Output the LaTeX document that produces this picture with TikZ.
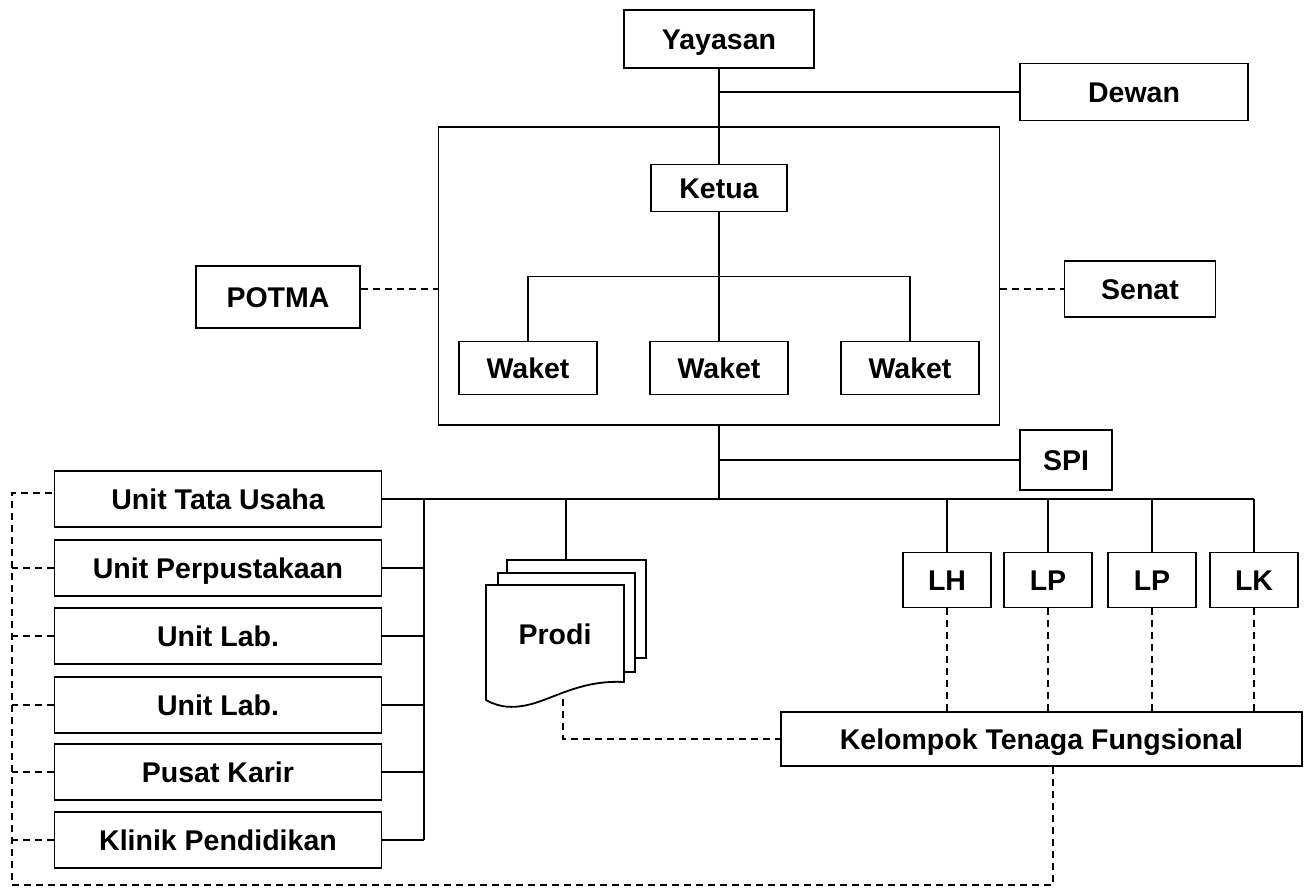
\documentclass[tikz,border=0pt]{standalone}
\usepackage{fontspec}
\setmainfont{Liberation Sans}
\usetikzlibrary{calc}
\tikzset{box/.style={draw, fill=white, inner sep=0pt, text height=20.5pt, text depth=0pt, font=\fontsize{28.5}{30}\selectfont\bfseries}}
\tikzset{dline/.style={line width=1.5pt, dash pattern=on 7pt off 5pt}}

\begin{document}
\begin{tikzpicture}[x=1pt,y=-1pt,line width=1.8pt]
		\useasboundingbox[fill=white] (0,0) rectangle (1304,892);
		% atas
		\node[draw, inner sep=0pt, minimum width=561pt, minimum height=298pt] (kampus) at (719,276) {};
		\node[box, minimum width=190pt, minimum height=58pt] (yayasan) at (719,39) {Yayasan};
		\node[box, minimum width=228pt, minimum height=57pt] (dewan) at (1134,92) {Dewan};
		\node[box, minimum width=136pt, minimum height=47pt] (ketua) at (719,188) {Ketua};
		\foreach \nm/\xx in {waket1/528, waket2/719, waket3/910}
			\node[box, minimum width=138pt, minimum height=53pt] (\nm) at (\xx,368) {Waket};
		\node[box, minimum width=164pt, minimum height=62pt] (potma) at (278,297) {POTMA};
		\node[box, minimum width=151pt, minimum height=56pt] (senat) at (1140,289) {Senat};
		\node[box, minimum width=92pt, minimum height=60pt] (spi) at (1066,460) {SPI};
		\draw (yayasan.south) -- (ketua.north);
		\draw (yayasan.south |- dewan.west) -- (dewan.west);
		\draw (ketua.south) -- (waket2.north);
		\coordinate (wbar) at ($(ketua.south)!0.5!(waket2.north)$);
		\draw (waket1.north) |- (wbar) -| (waket3.north);
		\draw[dline] (potma.east |- senat.west) -- (kampus.west |- senat.west);
		\draw[dline] (kampus.east |- senat.west) -- (senat.west);
		% bawah
		\coordinate (bar) at (719,499);
		\coordinate (bus) at (424,499);
		\coordinate (kiri) at (12,885);
		\draw (kampus.south) -- (bar);
		\draw (kampus.south |- spi.west) -- (spi.west);
		\node[box, minimum width=521pt, minimum height=54pt] (kelompok) at (1041.5,739) {Kelompok Tenaga Fungsional};
		\foreach \nm/\yy/\txt in {tu/499/Unit Tata Usaha, perpus/568/Unit Perpustakaan, lab1/636/Unit Lab., lab2/705/Unit Lab., karir/772/Pusat Karir, klinik/840/Klinik Pendidikan}{
			\node[box, minimum width=327pt, minimum height=56pt] (\nm) at (218,\yy) {\txt};
			\draw (\nm.east) -- (\nm.east -| bus);
		}
		\foreach \nm in {perpus,lab1,lab2,karir,klinik}
			\draw[dline] (\nm.west) -- (\nm.west -| kiri);
		\coordinate (tustub) at ([yshift=6pt]tu.west);
		\draw (bus) -- (bus |- klinik.east);
		\foreach \nm/\xx/\txt in {lh/947/LH, lp1/1048/LP, lp2/1152/LP, lk/1254/LK}{
			\node[box, minimum width=88pt, minimum height=55pt] (\nm) at (\xx,580) {\txt};
			\draw (\nm.north) -- (\nm.north |- bar);
			\draw[dline] (\nm.south) -- (\nm.south |- kelompok.north);
		}
		\draw (tu.east) -- (lk.north |- tu.east);
		% prodi
		\draw[fill=white] (507,560) rectangle (646,658);
		\draw[fill=white] (498,573) rectangle (635,672);
		\draw[fill=white] (486,700) -- (486,585) -- (624,585) -- (624,682) .. controls (585,680) and (560,695) .. (535,703) .. controls (515,709) and (500,708) .. (486,700) -- cycle;
		\node[font=\fontsize{28.5}{30}\selectfont\bfseries, text height=20.5pt, text depth=0pt, inner sep=0pt] (prodi) at (555,634) {Prodi};
		\coordinate (prodtop) at (566,560);
		\coordinate (prodbot) at (563,699);
		\draw (prodtop) -- (prodtop |- bar);
		\draw[dline] (prodbot) |- (kelompok.west);
		\draw[dline] ([xshift=11.5pt]kelompok.south) |- (kiri) -- (tustub -| kiri) -- (tustub);
	\end{tikzpicture}
\end{document}
